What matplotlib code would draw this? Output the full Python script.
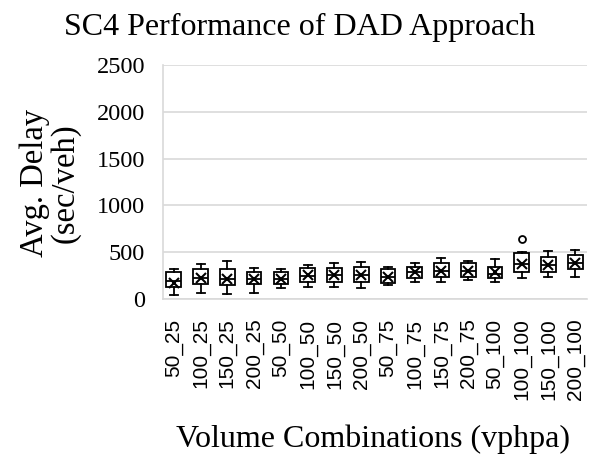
import numpy as np
import matplotlib.pyplot as plt

# delay statistics per volume combination (sec/veh)
combos = ['50_25', '100_25', '150_25', '200_25',
          '50_50', '100_50', '150_50', '200_50',
          '50_75', '100_75', '150_75', '200_75',
          '50_100', '100_100', '150_100', '200_100']
whislo = [45, 65, 55, 65, 115, 130, 130, 115, 150, 180, 180, 205, 180, 225, 235, 235]
q1     = [130, 160, 150, 160, 160, 180, 180, 180, 170, 225, 235, 235, 225, 290, 290, 320]
med    = [190, 230, 220, 220, 210, 250, 255, 260, 240, 285, 300, 300, 270, 370, 360, 390]
q3     = [290, 320, 320, 290, 290, 330, 330, 340, 320, 340, 385, 385, 340, 490, 450, 470]
whishi = [320, 375, 405, 330, 320, 365, 385, 395, 340, 385, 440, 405, 425, 500, 515, 525]
means  = [175, 225, 220, 220, 210, 255, 255, 260, 235, 285, 305, 305, 285, 380, 365, 385]
fliers = [[], [], [], [], [], [], [], [], [], [], [], [], [], [640], [], []]

stats = []
for i in range(len(combos)):
    stats.append(dict(whislo=whislo[i], q1=q1[i], med=med[i], q3=q3[i],
                      whishi=whishi[i], mean=means[i], fliers=fliers[i]))

fig = plt.figure(figsize=(5.89, 4.66), dpi=100)
ax = fig.add_axes([0.277, 0.358, 0.72, 0.503])

pos = np.arange(1, len(combos) + 1)
ax.bxp(stats, positions=pos, widths=0.55, showmeans=True, patch_artist=True,
       boxprops=dict(facecolor='white', edgecolor='black', linewidth=1.3),
       medianprops=dict(color='black', linewidth=1.3),
       whiskerprops=dict(color='black', linewidth=1.3),
       capprops=dict(color='black', linewidth=1.3),
       capwidths=0.3,
       meanprops=dict(marker='x', markeredgecolor='black', markersize=7, markeredgewidth=1.5),
       flierprops=dict(marker='o', markerfacecolor='white', markeredgecolor='black',
                       markersize=5, markeredgewidth=1.3))

ax.set_xlim(0.6, len(combos) + 0.45)
ax.set_ylim(0, 2500)
ax.set_yticks(np.arange(0, 2501, 500))
ax.yaxis.grid(True, color='#d9d9d9', linewidth=1.2)
ax.set_axisbelow(True)
for side in ['top', 'right']:
    ax.spines[side].set_visible(False)
ax.spines['left'].set_color('#d9d9d9')
ax.spines['bottom'].set_color('#d9d9d9')
ax.spines['left'].set_linewidth(1.2)
ax.spines['bottom'].set_linewidth(1.2)
ax.tick_params(length=0)
ax.tick_params(axis='y', pad=13)
ax.tick_params(axis='x', pad=14)

ax.set_xticks(pos)
ax.set_xticklabels(combos, rotation=90, fontsize=15, family='Liberation Sans', va='top')
for lab in ax.get_yticklabels():
    lab.set_fontfamily('Liberation Serif')
    lab.set_fontsize(17.5)

serif = 'Liberation Serif'
fig.text(0.508, 0.942, 'SC4 Performance of DAD Approach', ha='center', va='center',
         family=serif, fontsize=23)
fig.text(0.085, 0.607, 'Avg. Delay\n(sec/veh)', ha='center', va='center', rotation=90,
         family=serif, fontsize=23.5, linespacing=1.0)
fig.text(0.633, 0.058, 'Volume Combinations (vphpa)', ha='center', va='center',
         family=serif, fontsize=23)

fig.savefig('out.png', dpi=100)
